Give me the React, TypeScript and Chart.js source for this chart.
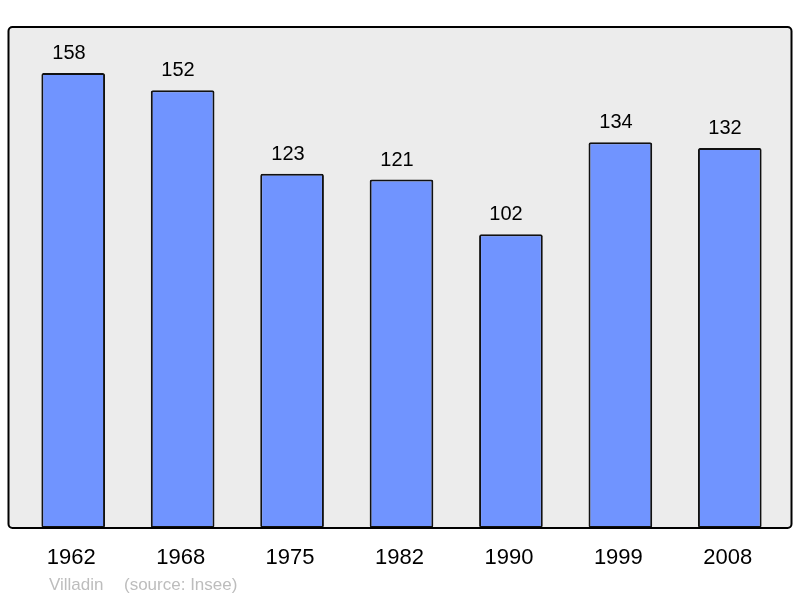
import React, { useEffect, useRef } from "react";
import { Chart, registerables } from "chart.js";

Chart.register(...registerables);

const years = ["1962", "1968", "1975", "1982", "1990", "1999", "2008"];
const population = [158, 152, 123, 121, 102, 134, 132];
const yMax = 174;
const footerAuthor = "Villadin";
const footerSource = "(source: Insee)";

const FONT = '"Liberation Sans", Arial, sans-serif';

function framePath(ctx: CanvasRenderingContext2D, l: number, t: number, w: number, h: number, r: number) {
  ctx.beginPath();
  ctx.moveTo(l + r, t);
  ctx.lineTo(l + w - r, t);
  ctx.arcTo(l + w, t, l + w, t + r, r);
  ctx.lineTo(l + w, t + h - r);
  ctx.arcTo(l + w, t + h, l + w - r, t + h, r);
  ctx.lineTo(l + r, t + h);
  ctx.arcTo(l, t + h, l, t + h - r, r);
  ctx.lineTo(l, t + r);
  ctx.arcTo(l, t, l + r, t, r);
  ctx.closePath();
}

const backgroundPlugin = {
  id: "plotBackground",
  beforeDraw(chart: any) {
    const { ctx, chartArea } = chart;
    const l = chartArea.left - 10;
    const r = chartArea.right + 7;
    ctx.save();
    framePath(ctx, l, chartArea.top, r - l, chartArea.bottom - chartArea.top, 4);
    ctx.fillStyle = "#ececec";
    ctx.fill();
    ctx.restore();
  },
  afterDatasetsDraw(chart: any) {
    const { ctx, chartArea } = chart;
    const l = chartArea.left - 10;
    const r = chartArea.right + 7;
    ctx.save();
    framePath(ctx, l, chartArea.top, r - l, chartArea.bottom - chartArea.top, 4);
    ctx.lineWidth = 2;
    ctx.strokeStyle = "#000000";
    ctx.stroke();
    ctx.beginPath();
    const meta = chart.getDatasetMeta(0);
    ctx.fillStyle = "#000000";
    ctx.font = `20px ${FONT}`;
    ctx.textAlign = "center";
    ctx.textBaseline = "alphabetic";
    meta.data.forEach((bar: any, i: number) => {
      ctx.fillText(String(population[i]), Math.round(bar.x - 4.5), Math.round(bar.y - 14));
    });
    ctx.fillStyle = "#bdbdbd";
    ctx.font = `17px ${FONT}`;
    ctx.textAlign = "left";
    ctx.fillText(footerAuthor, 49, 590);
    ctx.fillText(footerSource, 124, 590);
    ctx.restore();
  },
};

export default function App() {
  const ref = useRef<HTMLCanvasElement | null>(null);
  useEffect(() => {
    if (!ref.current) return;
    const chart = new Chart(ref.current, {
      type: "bar",
      data: {
        labels: years,
        datasets: [
          {
            data: population,
            backgroundColor: "#7094ff",
            borderColor: "#111111",
            borderWidth: 2,
            borderRadius: 2,
            borderSkipped: false,
            barPercentage: 0.582,
            categoryPercentage: 1,
          },
        ],
      },
      options: {
        responsive: false,
        animation: false,
        devicePixelRatio: 1,
        events: [],
        layout: { padding: { left: 18.5, right: 15.5, top: 27, bottom: 0 } },
        plugins: {
          legend: { display: false },
          tooltip: { enabled: false },
          title: { display: false },
        },
        scales: {
          x: {
            grid: { display: false, drawTicks: false },
            border: { display: false },
            ticks: {
              color: "#000000",
              font: { family: FONT, size: 22 },
              padding: 17,
              labelOffset: -2,
              maxRotation: 0,
            },
            afterFit: (scale: any) => {
              scale.height = 70;
            },
          },
          y: {
            display: false,
            min: 0,
            max: yMax,
          },
        },
      },
      plugins: [backgroundPlugin],
    });
    return () => chart.destroy();
  }, []);
  return (
    <div style={{ position: "absolute", left: 0, top: 0, width: 800, height: 598, background: "#ffffff" }}>
      <canvas ref={ref} width={800} height={598} style={{ display: "block" }} />
    </div>
  );
}
